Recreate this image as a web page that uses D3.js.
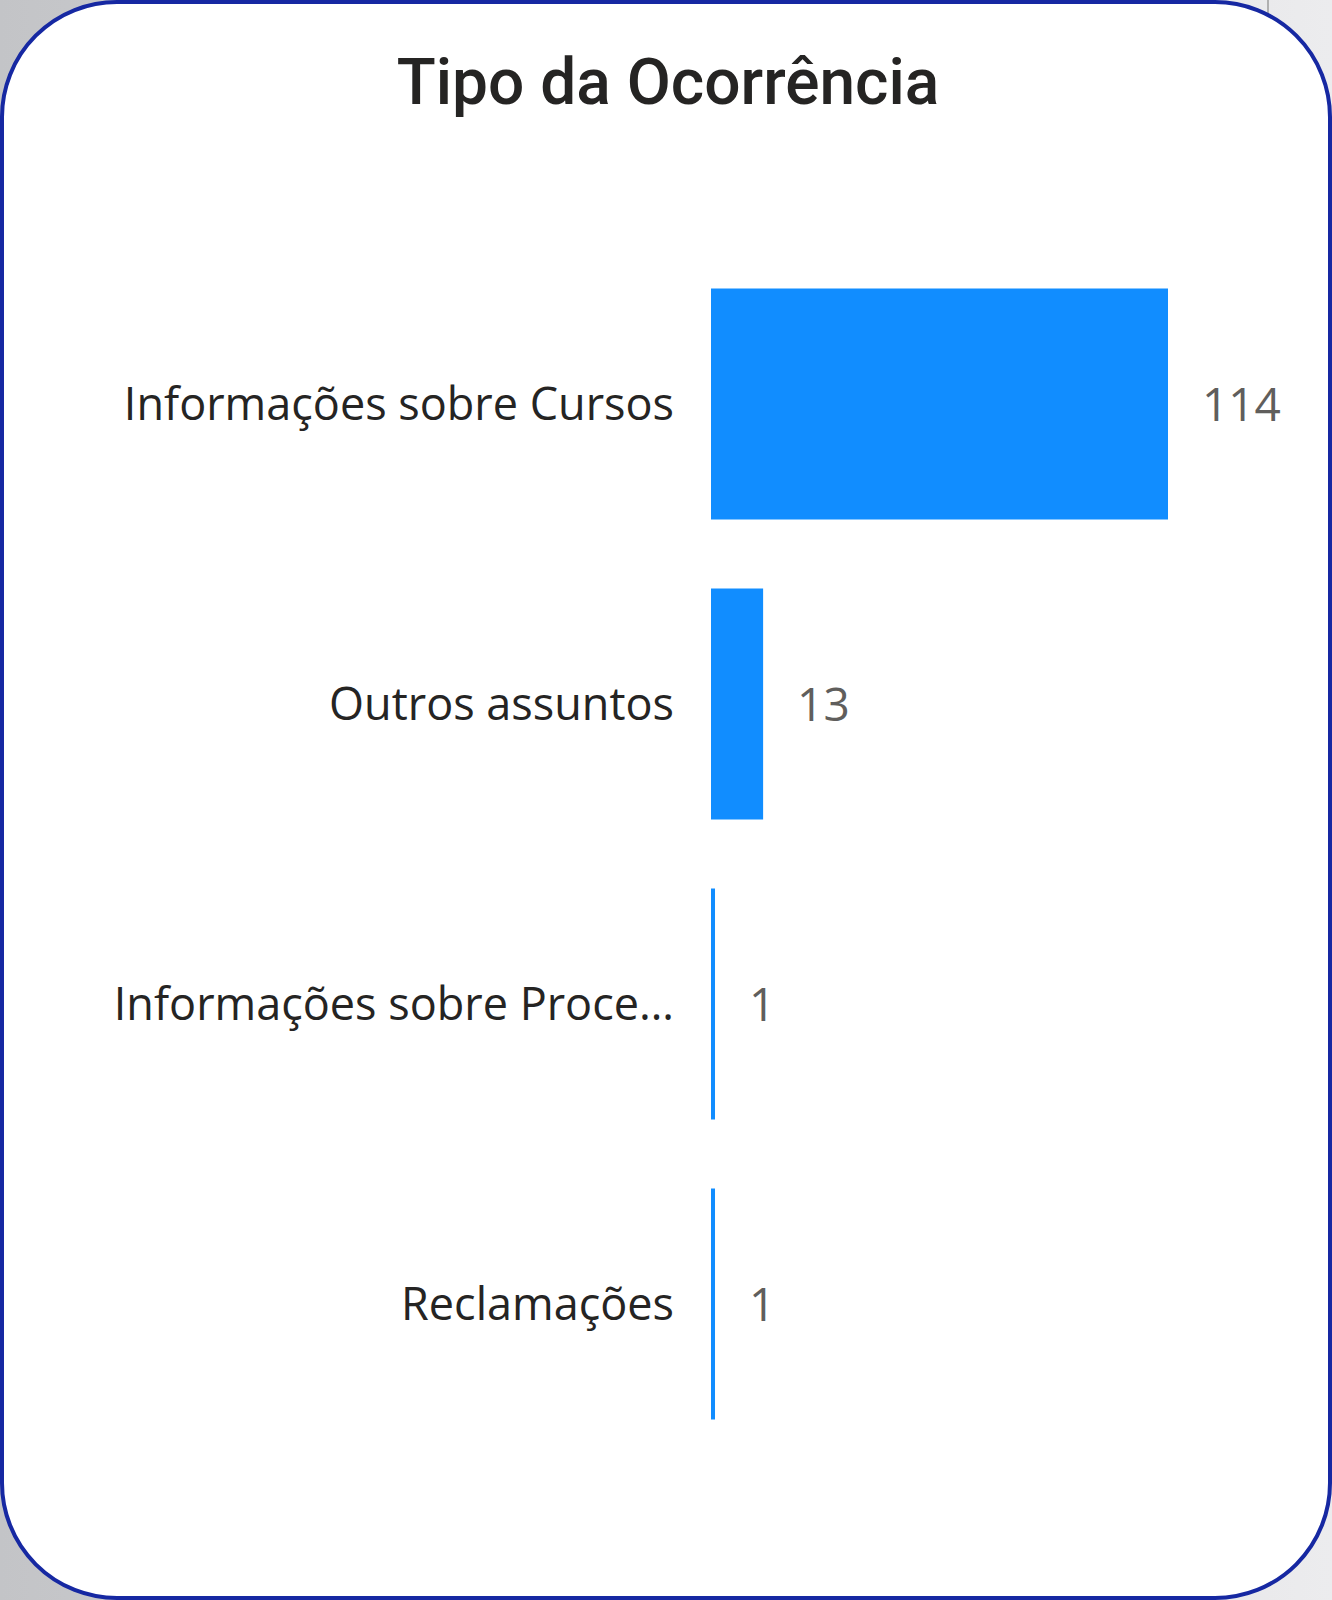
<!DOCTYPE html>
<html lang="pt">
<head>
<meta charset="utf-8">
<title>Tipo da Ocorrência</title>
<script src="https://cdn.jsdelivr.net/npm/d3@7"></script>
<style>
  html, body { margin: 0; padding: 0; }
  body { width: 1332px; height: 1600px; overflow: hidden; }
</style>
</head>
<body>
<div id="chart"></div>
<script>
  var categories = ["Informações sobre Cursos", "Outros assuntos", "Informações sobre Proce…", "Reclamações"];
  var values = [114, 13, 1, 1];
  var title = "Tipo da Ocorrência";

  var w = 1332;
  var h = 1600;
  var plotLeft = 711;
  var plotTop = 254;

  var svg = d3.select("#chart")
      .append("svg")
      .attr("width", w)
      .attr("height", h);

  // page background behind the card
  var grad = svg.append("defs").append("linearGradient")
      .attr("id", "bg")
      .attr("x1", "0").attr("x2", "1").attr("y1", "0").attr("y2", "0");
  grad.append("stop").attr("offset", "0").attr("stop-color", "#c3c4c7");
  grad.append("stop").attr("offset", "1").attr("stop-color", "#ececee");

  svg.append("rect")
      .attr("width", w).attr("height", h)
      .attr("fill", "url(#bg)");

  svg.append("line")
      .attr("x1", 1268).attr("x2", 1268)
      .attr("y1", 0).attr("y2", 14)
      .attr("stroke", "#b0b0b0")
      .attr("stroke-width", 2);

  // card
  svg.append("rect")
      .attr("x", 2).attr("y", 2)
      .attr("width", w - 4).attr("height", h - 4)
      .attr("rx", 115).attr("ry", 115)
      .attr("fill", "#ffffff")
      .attr("stroke", "#1628a2")
      .attr("stroke-width", 4);

  svg.append("text")
      .attr("x", 668)
      .attr("y", 104)
      .attr("text-anchor", "middle")
      .attr("font-family", "Roboto, 'DejaVu Sans Condensed', sans-serif")
      .attr("font-weight", 500)
      .attr("font-size", 64)
      .attr("fill", "#252423")
      .text(title);

  var yScale = d3.scaleBand()
      .domain(categories)
      .range([plotTop, plotTop + 300 * categories.length])
      .paddingInner(0.23)
      .paddingOuter(0.115);

  var xScale = d3.scaleLinear()
      .domain([0, d3.max(values)])
      .range([plotLeft, plotLeft + 457]);

  var data = categories.map(function (c, i) {
      return { name: c, value: values[i] };
  });

  svg.selectAll("rect.bar")
      .data(data)
      .enter()
      .append("rect")
      .attr("class", "bar")
      .attr("x", xScale(0))
      .attr("y", function (d) { return yScale(d.name); })
      .attr("width", function (d) { return xScale(d.value) - xScale(0); })
      .attr("height", yScale.bandwidth())
      .attr("fill", "#118dff");

  var yAxis = d3.axisLeft(yScale).tickSize(0).tickPadding(0);

  var axisG = svg.append("g")
      .attr("transform", "translate(674,0)")
      .call(yAxis);
  axisG.select(".domain").remove();
  axisG.selectAll("text")
      .attr("font-family", "'Open Sans', 'Noto Sans', sans-serif")
      .attr("font-size", 45)
      .attr("fill", "#252423")
      .attr("dy", "0.36em");

  svg.selectAll("text.value")
      .data(data)
      .enter()
      .append("text")
      .attr("class", "value")
      .attr("x", function (d) { return xScale(d.value) + 34; })
      .attr("y", function (d) { return yScale(d.name) + yScale.bandwidth() / 2; })
      .attr("dy", "0.36em")
      .attr("font-family", "'Open Sans', 'Noto Sans', sans-serif")
      .attr("font-size", 46)
      .attr("fill", "#605e5c")
      .text(function (d) { return d.value; });
</script>
</body>
</html>
